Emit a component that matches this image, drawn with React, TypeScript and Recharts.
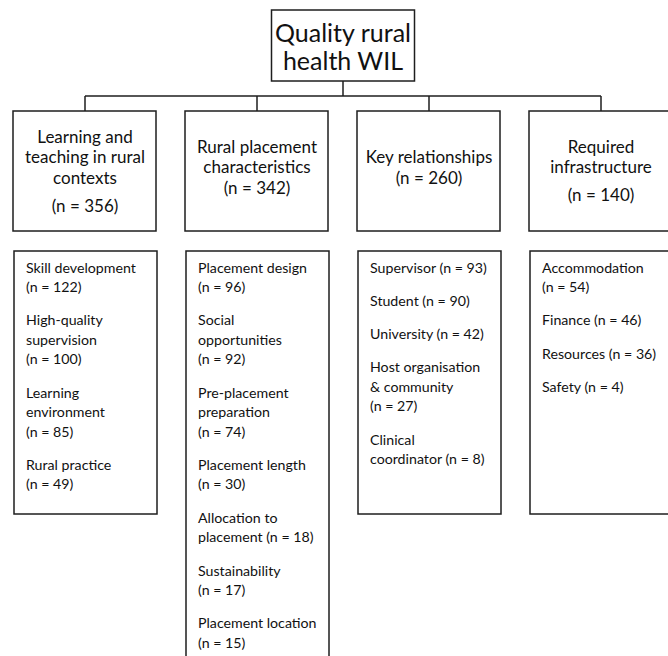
import React from 'react';
import { ScatterChart, Scatter, XAxis, YAxis, ReferenceLine } from 'recharts';

// chart content
const rootTitle = 'Quality rural\nhealth WIL';
const themeNames = [
  'Learning and\nteaching in rural\ncontexts',
  'Rural placement\ncharacteristics',
  'Key relationships',
  'Required\ninfrastructure',
];
const themeCounts = [356, 342, 260, 140];

// "\n" at the end of a name puts the count on its own line
const subthemeNames = [
  ['Skill development\n', 'High-quality\nsupervision\n', 'Learning\nenvironment\n', 'Rural practice\n'],
  [
    'Placement design\n',
    'Social\nopportunities\n',
    'Pre-placement\npreparation\n',
    'Placement length\n',
    'Allocation to\nplacement ',
    'Sustainability\n',
    'Placement location\n',
  ],
  ['Supervisor ', 'Student ', 'University ', 'Host organisation\n& community\n', 'Clinical\ncoordinator '],
  ['Accommodation\n', 'Finance ', 'Resources ', 'Safety '],
];
const subthemeCounts = [
  [122, 100, 85, 49],
  [96, 92, 74, 30, 18, 17, 15],
  [93, 90, 42, 27, 8],
  [54, 46, 36, 4],
];

// layout
const W = 668;
const H = 656;
const COL_STEP = 172;
const FIRST_COL = 85;
const LINE = '#1e1e1e';
const FONT = 'Lato, "Noto Sans", sans-serif';
const countGap = [28, 21, 21, 28];
const detailHeights = [263, 430, 263, 263];

const rootData = [{ x: 1.5, y: 45.5, name: rootTitle }];
const themeData = themeNames.map((name, i) => ({ x: i, y: 171, name, count: themeCounts[i], gap: countGap[i] }));
const detailData = subthemeNames.map((names, i) => ({
  x: i,
  y: 251,
  items: names.map((n, k) => `${n}(n = ${subthemeCounts[i][k]})`),
  h: detailHeights[i],
}));

const RootBox = (props: any) => {
  const { cx, cy, payload } = props;
  const lines: string[] = payload.name.split('\n');
  return (
    <g>
      <rect x={cx - 71.5} y={cy - 35.5} width={143} height={71} fill="#fff" stroke={LINE} strokeWidth={1.5} />
      {lines.map((l, k) => (
        <text key={k} x={cx} y={cy - 14 + 28 * k} textAnchor="middle" dominantBaseline="central"
          fontFamily={FONT} fontSize={25} fill="#111">{l}</text>
      ))}
    </g>
  );
};

const ThemeBox = (props: any) => {
  const { cx, cy, payload } = props;
  const lines: string[] = payload.name.split('\n');
  const first = cy - 14.5 - 10.25 * (lines.length - 1);
  const last = first + 20.5 * (lines.length - 1);
  return (
    <g>
      <rect x={cx - 72} y={cy - 60} width={143} height={120} fill="#fff" stroke={LINE} strokeWidth={1.5} />
      {lines.map((l, k) => (
        <text key={k} x={cx} y={first + 20.5 * k} textAnchor="middle" dominantBaseline="central"
          fontFamily={FONT} fontSize={17} fill="#111">{l}</text>
      ))}
      <text x={cx} y={last + payload.gap} textAnchor="middle" dominantBaseline="central"
        fontFamily={FONT} fontSize={17} fill="#111">{`(n = ${payload.count})`}</text>
    </g>
  );
};

const DetailBox = (props: any) => {
  const { cx, cy, payload } = props;
  const left = cx - 71;
  const rows: { t: string; y: number }[] = [];
  let y = cy + 16;
  payload.items.forEach((item: string, k: number) => {
    if (k > 0) y += 33.3;
    item.split('\n').forEach((t, j) => {
      if (j > 0) y += 19.5;
      rows.push({ t, y });
    });
  });
  return (
    <g>
      <rect x={left} y={cy} width={143} height={payload.h} fill="#fff" stroke={LINE} strokeWidth={1.5} />
      {rows.map((r, k) => (
        <text key={k} x={left + 12} y={r.y} dominantBaseline="central"
          fontFamily={FONT} fontSize={14.2} fill="#111">{r.t}</text>
      ))}
    </g>
  );
};

export default function App() {
  return (
    <div style={{ position: 'absolute', left: 0, top: 0, background: '#fff' }}>
      <ScatterChart width={W} height={H} margin={{ top: 0, right: 0, bottom: 0, left: 0 }}>
        <XAxis type="number" dataKey="x" domain={[-FIRST_COL / COL_STEP, (W - FIRST_COL) / COL_STEP]}
          allowDataOverflow hide />
        <YAxis type="number" dataKey="y" domain={[0, H]} reversed allowDataOverflow hide />
        <ReferenceLine segment={[{ x: 1.5, y: 81 }, { x: 1.5, y: 96 }]} stroke={LINE} strokeWidth={1.5} />
        <ReferenceLine segment={[{ x: 0, y: 96 }, { x: 3, y: 96 }]} stroke={LINE} strokeWidth={1.5} />
        {themeNames.map((_, i) => (
          <ReferenceLine key={i} segment={[{ x: i, y: 96 }, { x: i, y: 111 }]} stroke={LINE} strokeWidth={1.5} />
        ))}
        <Scatter data={rootData} shape={RootBox} isAnimationActive={false} />
        <Scatter data={themeData} shape={ThemeBox} isAnimationActive={false} />
        <Scatter data={detailData} shape={DetailBox} isAnimationActive={false} />
      </ScatterChart>
    </div>
  );
}
